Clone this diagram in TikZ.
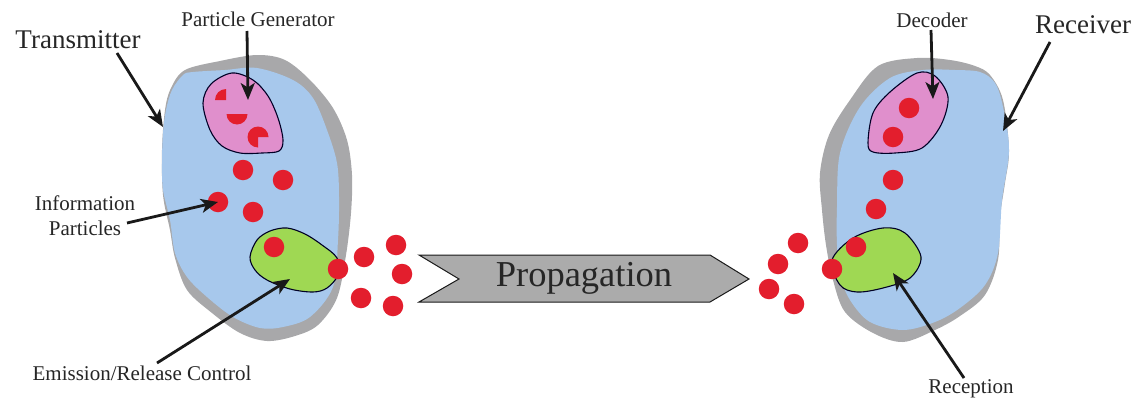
\documentclass[tikz,border=0pt]{standalone}
\usepackage{fontspec}
\setmainfont{Liberation Serif}
\usetikzlibrary{arrows.meta}

\definecolor{shell}{HTML}{A8A8AA}
\definecolor{cell}{HTML}{A7C8EC}
\definecolor{organ}{HTML}{E08FCC}
\definecolor{sack}{HTML}{9FD853}
\definecolor{mol}{HTML}{E31E2D}
\definecolor{banner}{HTML}{ABABAB}

\begin{document}
\begin{tikzpicture}[x=1pt,y=-1pt]

    \tikzset{
      Particle/.style = {circle, fill=mol, inner sep=0pt, minimum size=20.5pt},
      Part/.style = {draw=black!85!blue, line width=1.1pt},
      Lbl/.style = {inner sep=1pt, align=center, text=black!85, font=\fontsize{21}{25}\selectfont},
      BigLbl/.style = {inner sep=1pt, text=black!85, font=\fontsize{27}{30}\selectfont},
      Pointer/.style = {draw=black!90, line width=2.8pt, -{Stealth[length=17pt,width=14pt,inset=4.5pt]}}
    }
    \useasboundingbox (0,0) rectangle (1135,399);

    % transmitter body
    \fill[shell] plot[smooth cycle,tension=0.55] coordinates {(162,150) (165,110) (171,88) (185,70) (220,61) (257,55)
      (285,60) (310,80) (333,108) (347,140) (352,175) (351,213) (346,255) (337,298) (318,325) (295,336) (267,341)
      (240,333) (212,313) (187,290) (175,258) (170,230) (163,195)};
    \fill[cell] plot[smooth cycle,tension=0.55] coordinates {(163,133) (166,110) (172,90) (183,75) (193,72) (225,70)
      (257,68) (293,80) (313,98) (327,130) (337,163) (339,197) (338,240) (333,287) (310,317) (283,327) (260,328)
      (233,317) (207,297) (187,277) (175,253) (170,220) (163,190) (162,163)};
    \filldraw[Part,fill=organ] plot[smooth cycle,tension=0.55] coordinates {(203,103) (211,84) (232,73) (253,80) (268,96)
      (278,118) (283,140) (279,151) (262,153) (240,153) (222,146) (210,130)};
    \filldraw[Part,fill=sack] plot[smooth cycle,tension=0.55] coordinates {(250,257) (257,240) (270,231) (287,228)
      (305,234) (322,245) (337,258) (338,275) (327,288) (313,292) (290,289) (267,280) (255,270)};

    % receiver body
    \fill[shell] plot[smooth cycle,tension=0.55] coordinates {(820,173) (829,135) (850,100) (878,66) (917,58) (950,60)
      (975,66) (990,75) (1003,100) (1009,150) (1005,183) (1000,217) (998,260) (985,295) (960,316) (935,330)
      (903,342) (873,333) (845,312) (833,280) (826,245) (822,210)};
    \fill[cell] plot[smooth cycle,tension=0.55] coordinates {(837,207) (840,153) (860,107) (890,78) (923,70) (955,70)
      (980,72) (995,83) (1003,107) (1009,150) (1002,200) (998,253) (985,285) (960,308) (935,322) (903,330)
      (870,322) (850,300) (840,275) (837,245)};
    \filldraw[Part,fill=organ] plot[smooth cycle,tension=0.55] coordinates {(868,143) (873,113) (890,92) (917,73) (935,76)
      (948,97) (941,125) (922,148) (895,153) (873,152)};
    \filldraw[Part,fill=sack] plot[smooth cycle,tension=0.55] coordinates {(832,260) (853,238) (883,228) (905,233)
      (921,257) (910,278) (883,288) (857,292) (840,285)};

    % particles being made
    \coordinate (w1) at (226,100);
    \coordinate (w2) at (237,114);
    \coordinate (w3) at (258,137);
    \fill[mol] (w1) -- ++(90:11pt) arc[start angle=90,end angle=180,radius=11pt] -- cycle;
    \fill[mol] (w2) ++(180:10.5pt) arc[start angle=180,end angle=360,radius=10.5pt] -- cycle;
    \fill[mol] (w3) -- ++(0:10.5pt) arc[start angle=0,end angle=270,radius=10.5pt] -- cycle;

    % particles, transmitter side
    \node[Particle] (t1) at (243,170) {};
    \node[Particle] (t2) at (283,180) {};
    \node[Particle] (t3) at (218,202) {};
    \node[Particle] (t4) at (253,212) {};
    \node[Particle] (t5) at (274,247) {};
    \node[Particle] (t6) at (338,269) {};
    \node[Particle] (c1) at (364,257) {};
    \node[Particle] (c2) at (396,245) {};
    \node[Particle] (c3) at (402,274) {};
    \node[Particle] (c4) at (361,298) {};
    \node[Particle] (c5) at (393,306) {};

    % particles, receiver side
    \node[Particle] (r1) at (909,108) {};
    \node[Particle] (r2) at (893,137) {};
    \node[Particle] (r3) at (893,180) {};
    \node[Particle] (r4) at (876,209) {};
    \node[Particle] (r5) at (856,247) {};
    \node[Particle] (r6) at (832,269) {};
    \node[Particle] (d1) at (798,243) {};
    \node[Particle] (d2) at (778,264) {};
    \node[Particle] (d3) at (769,289) {};
    \node[Particle] (d4) at (794,304) {};

    % channel
    \filldraw[draw=black!90,line width=1pt,fill=banner] (419,255) -- (710,255) -- (749,279) -- (710,302)
      -- (419,302) -- (459,279) -- cycle;
    \node[inner sep=0pt,text=black!85,font=\fontsize{36.5}{40}\selectfont] (prop) at (584,278) {Propagation};

    % labels
    \node[BigLbl] (tx) at (78,40) {Transmitter};
    \node[BigLbl] (rx) at (1083,25) {Receiver};
    \node[Lbl] (gen) at (258,19) {Particle Generator};
    \node[Lbl] (info) at (85,216) {Information\\Particles};
    \node[Lbl] (ctrl) at (142,373) {Emission/Release Control};
    \node[Lbl] (dec) at (932,20) {Decoder};
    \node[Lbl] (rec) at (971,389) {Reception};

    \coordinate (tipTx) at (163,127);
    \coordinate (tipGen) at (248,100);
    \coordinate (tipInfo) at (218,202);
    \coordinate (tipCtrl) at (290,279);
    \coordinate (tipDec) at (933,99);
    \coordinate (tipRx) at (1003,131);
    \coordinate (tipRec) at (893,273);

    \draw[Pointer] (tx) ++(39,13) -- (tipTx);
    \draw[Pointer] (gen) ++(-11,12) -- (tipGen);
    \draw[Pointer] (info) ++(42,7) -- (tipInfo);
    \draw[Pointer] (ctrl) ++(15,-10) -- (tipCtrl);
    \draw[Pointer] (dec) ++(-1,10) -- (tipDec);
    \draw[Pointer] (rx) ++(-33,17) -- (tipRx);
    \draw[Pointer] (rec) ++(-7,-11) -- (tipRec);

\end{tikzpicture}
\end{document}
